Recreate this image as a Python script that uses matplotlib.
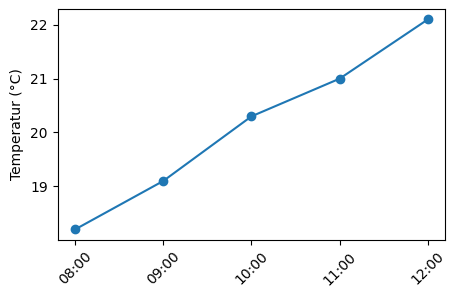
import matplotlib
import matplotlib.pyplot as plt

matplotlib.use("Agg")

times = ["08:00", "09:00", "10:00", "11:00", "12:00"]
temps = [18.2, 19.1, 20.3, 21.0, 22.1]


def main():
    fig, ax = plt.subplots(figsize=(4.55, 2.98), dpi=100)
    ax.plot(times, temps, marker="o")
    ax.set_ylabel("Temperatur (°C)")
    ax.tick_params(axis="x", rotation=45)
    fig.subplots_adjust(left=0.1264, right=0.979, top=0.970, bottom=0.195)
    fig.savefig("out.png", dpi=100)


if __name__ == "__main__":
    main()
